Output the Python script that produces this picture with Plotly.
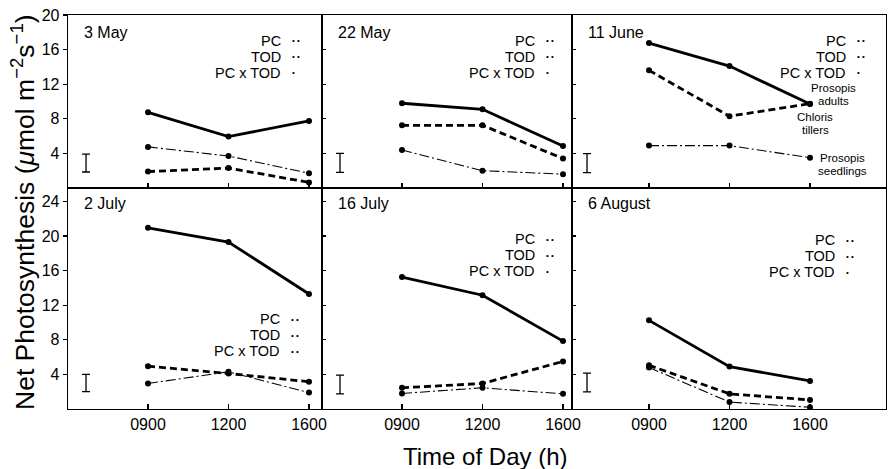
import plotly.graph_objects as go

# ---------------- data ----------------
PANELS = ["3 May", "22 May", "11 June", "2 July", "16 July", "6 August"]
TIMES = ["0900", "1200", "1600"]

PROSOPIS_ADULTS = [
    [8.75, 5.95, 7.75],
    [9.8, 9.1, 4.85],
    [16.75, 14.1, 9.7],
    [20.95, 19.3, 13.3],
    [15.25, 13.15, 7.85],
    [10.25, 4.9, 3.25],
]
CHLORIS_TILLERS = [
    [1.9, 2.3, 0.65],
    [7.25, 7.25, 3.4],
    [13.6, 8.3, 9.75],
    [4.95, 4.1, 3.15],
    [2.45, 2.95, 5.5],
    [5.05, 1.75, 1.05],
]
PROSOPIS_SEEDLINGS = [
    [4.75, 3.7, 1.7],
    [4.4, 2.0, 1.6],
    [4.9, 4.9, 3.5],
    [2.95, 4.3, 1.9],
    [1.8, 2.45, 1.75],
    [4.8, 0.8, 0.2],
]
# error bar shown in each panel (centre, half length)
ERR_MID = [2.88, 2.9, 2.88, 3.0, 2.83, 3.06]
ERR_HALF = [1.03, 1.1, 1.1, 1.0, 1.09, 1.09]

SIG_TERMS = ["PC", "TOD", "PC x TOD"]
SIG_MARKS = [
    ["••", "••", "•"],
    ["••", "••", "•"],
    ["••", "••", "•"],
    ["••", "••", "••"],
    ["••", "••", "•"],
    ["••", "••", "•"],
]
CURVE_LABELS = ["Prosopis adults", "Chloris tillers", "Prosopis seedlings"]

TOP_TICKS = [4, 8, 12, 16, 20]
BOTTOM_TICKS = [4, 8, 12, 16, 20, 24]

# ---------------- geometry / style ----------------
FONT = "Liberation Sans, Arial, Helvetica, sans-serif"
W, H = 888, 469
COL_PX = [68, 322, 572, 886]        # panel column edges (px)
ROW_PX = [15, 188, 409]             # panel row edges (px)
X0_PX = [148, 402, 649]             # px of first time point per column
PX_PER_X = 80.5
PX_PER_Y = 8.65

ML, MR, MT, MB = COL_PX[0], W - COL_PX[-1], ROW_PX[0], H - ROW_PX[-1]
PW, PH = W - ML - MR, H - MT - MB

xpos = list(range(len(TIMES)))

fig = go.Figure()

series_styles = [
    (PROSOPIS_ADULTS, dict(color="black", width=2.8, dash="solid")),
    (CHLORIS_TILLERS, dict(color="black", width=2.8, dash="7px,4px")),
    (PROSOPIS_SEEDLINGS, dict(color="black", width=1.1, dash="10px,3px,2px,3px")),
]

annotations = []
for i, name in enumerate(PANELS):
    r, c = divmod(i, 3)
    k = i + 1
    xa = "x" if k == 1 else f"x{k}"
    ya = "y" if k == 1 else f"y{k}"
    for data, ls in series_styles:
        fig.add_trace(go.Scatter(
            x=xpos, y=data[i], mode="lines+markers",
            line=ls, marker=dict(size=6, color="black"),
            xaxis=xa, yaxis=ya, showlegend=False, hoverinfo="skip"))
    # error bar
    fig.add_trace(go.Scatter(
        x=[-0.77], y=[ERR_MID[i]], mode="markers",
        marker=dict(size=1, color="rgba(0,0,0,0)"),
        error_y=dict(type="data", array=[ERR_HALF[i]], color="black",
                     thickness=1.3, width=4),
        xaxis=xa, yaxis=ya, showlegend=False, hoverinfo="skip"))

    # axes
    left, right = COL_PX[c], COL_PX[c + 1]
    top, bot = ROW_PX[r], ROW_PX[r + 1]
    xr = [(left - X0_PX[c]) / PX_PER_X, (right - X0_PX[c]) / PX_PER_X]
    yr = [0, (bot - top) / PX_PER_Y]
    xdom = [(left - ML) / PW, (right - ML) / PW]
    ydom = [(H - MB - bot) / PH, (H - MB - top) / PH]
    xkey = "xaxis" if k == 1 else f"xaxis{k}"
    ykey = "yaxis" if k == 1 else f"yaxis{k}"
    fig.layout[xkey] = dict(
        domain=xdom, range=xr, anchor=ya, showgrid=False, zeroline=False,
        showline=True, linecolor="black", linewidth=1.3, mirror=True,
        ticks="inside", ticklen=5, tickwidth=1.3, tickcolor="black",
        tickvals=xpos, ticktext=TIMES, showticklabels=(r == 1),
        tickfont=dict(family=FONT, size=16, color="black"))
    fig.layout[ykey] = dict(
        domain=ydom, range=yr, anchor=xa, showgrid=False, zeroline=False,
        showline=True, linecolor="black", linewidth=1.3, mirror=True,
        ticks="outside" if c == 0 else "inside", ticklen=4, tickwidth=1.3,
        tickcolor="black",
        tickvals=TOP_TICKS if r == 0 else BOTTOM_TICKS,
        showticklabels=(c == 0),
        tickfont=dict(family=FONT, size=16, color="black"))

    # panel title
    title_px = 32 if r == 0 else 203
    annotations.append(dict(
        x=(left + 14 - X0_PX[c]) / PX_PER_X, y=(bot - title_px) / PX_PER_Y,
        xref=xa, yref=ya,
        text=name, showarrow=False, xanchor="left", yanchor="middle",
        font=dict(family=FONT, size=16, color="black")))

    # significance block
    end_px = [283, 537, 848][c] if r == 0 else [282, 537, 837][c]
    first_px = 40.5 if r == 0 else [319, 239, 240][c]
    xv = (end_px - X0_PX[c]) / PX_PER_X
    for j, term in enumerate(SIG_TERMS):
        ypx = first_px + j * 16.2
        yv = (bot - ypx) / PX_PER_Y
        annotations.append(dict(
            x=xv, y=yv, xref=xa, yref=ya, text=term, showarrow=False,
            xanchor="right", yanchor="middle",
            font=dict(family=FONT, size=14.5, color="black")))
        annotations.append(dict(
            x=xv, y=yv, xref=xa, yref=ya,
            text=SIG_MARKS[i][j].replace("••", "• •"),
            showarrow=False, xanchor="left", yanchor="middle", xshift=7,
            font=dict(family=FONT, size=8, color="black")))

# curve labels in 11 June panel
lab_pos = [(833, 94), (815, 123.5), (842, 164.5)]  # px centres
for (lx, ly), lab in zip(lab_pos, CURVE_LABELS):
    words = lab.split(" ")
    for w_i, word in enumerate(words):
        ypx = ly + (w_i - (len(words) - 1) / 2) * 13
        annotations.append(dict(
            x=(lx - X0_PX[2]) / PX_PER_X, y=(ROW_PX[1] - ypx) / PX_PER_Y,
            xref="x3", yref="y3", text=word, showarrow=False,
            xanchor="center", yanchor="middle",
            font=dict(family=FONT, size=11.5, color="black")))

# axis titles (positions given in figure pixels)
annotations.append(dict(
    x=(23 - ML) / PW, y=(H - 212 - MB) / PH, xref="paper", yref="paper",
    text="Net Photosynthesis (<i>μ</i>mol m<sup>−2</sup>s<sup>−1</sup>)",
    textangle=-90, showarrow=False, xanchor="center", yanchor="middle",
    font=dict(family=FONT, size=26.5, color="black")))
annotations.append(dict(
    x=(485 - ML) / PW, y=(H - 456 - MB) / PH, xref="paper", yref="paper",
    text="Time of Day (h)", showarrow=False, xanchor="center", yanchor="middle",
    font=dict(family=FONT, size=24, color="black")))

fig.update_layout(
    width=W, height=H,
    margin=dict(l=ML, r=MR, t=MT, b=MB, pad=0, autoexpand=False),
    paper_bgcolor="white", plot_bgcolor="white",
    annotations=annotations, showlegend=False,
    font=dict(family=FONT, color="black"),
)

fig.write_html("out.html",
               config={"displayModeBar": False, "staticPlot": True},
               post_script="document.body.style.margin='0px';")
